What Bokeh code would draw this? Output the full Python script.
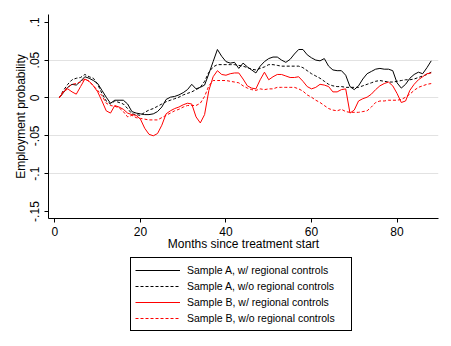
from bokeh.plotting import figure
from bokeh.layouts import column
from bokeh.models import Range1d, Legend, LegendItem, FixedTicker, ColumnDataSource
from bokeh.embed import file_html
from bokeh.resources import INLINE

months = list(range(1, 89))

sample_a_w = [
    0.000, 0.007, 0.014, 0.018, 0.017, 0.022, 0.028, 0.026, 0.023, 0.019,
    0.010, 0.001, -0.007, -0.003, -0.003, -0.003, -0.008, -0.018, -0.020, -0.021,
    -0.022, -0.022, -0.021, -0.018, -0.012, -0.002, 0.001, 0.002, 0.004, 0.007,
    0.011, 0.018, 0.012, 0.014, 0.017, 0.032, 0.048, 0.064, 0.055, 0.048,
    0.046, 0.047, 0.039, 0.046, 0.041, 0.037, 0.033, 0.042, 0.048, 0.052,
    0.054, 0.054, 0.050, 0.047, 0.051, 0.058, 0.064, 0.064, 0.057, 0.053,
    0.050, 0.049, 0.052, 0.042, 0.037, 0.036, 0.036, 0.030, 0.015, 0.011,
    0.016, 0.025, 0.032, 0.035, 0.038, 0.039, 0.038, 0.038, 0.036, 0.020,
    0.013, 0.018, 0.026, 0.031, 0.034, 0.032, 0.040, 0.049,
]

sample_a_wo = [
    0.000, 0.010, 0.018, 0.024, 0.026, 0.027, 0.031, 0.028, 0.026, 0.018,
    0.006, -0.004, -0.008, -0.004, -0.006, -0.008, -0.014, -0.021, -0.022, -0.023,
    -0.019, -0.016, -0.014, -0.011, -0.008, -0.005, -0.003, -0.001, 0.001, 0.004,
    0.006, 0.008, 0.011, 0.014, 0.022, 0.034, 0.041, 0.044, 0.044, 0.044,
    0.044, 0.044, 0.043, 0.042, 0.040, 0.038, 0.037, 0.039, 0.041, 0.044,
    0.044, 0.043, 0.042, 0.042, 0.042, 0.042, 0.042, 0.040, 0.036, 0.032,
    0.029, 0.026, 0.022, 0.018, 0.016, 0.015, 0.015, 0.014, 0.014, 0.014,
    0.014, 0.016, 0.018, 0.020, 0.022, 0.023, 0.022, 0.021, 0.021, 0.022,
    0.023, 0.024, 0.024, 0.025, 0.027, 0.029, 0.031, 0.034,
]

sample_b_w = [
    0.000, 0.008, 0.012, 0.008, 0.005, 0.015, 0.025, 0.022, 0.016, 0.008,
    -0.004, -0.017, -0.020, -0.010, -0.012, -0.015, -0.020, -0.022, -0.023, -0.028,
    -0.040, -0.048, -0.050, -0.047, -0.036, -0.021, -0.017, -0.014, -0.012, -0.009,
    -0.007, -0.008, -0.025, -0.033, -0.022, 0.010, 0.028, 0.036, 0.031, 0.030,
    0.032, 0.033, 0.033, 0.025, 0.016, 0.013, 0.012, 0.024, 0.034, 0.024,
    0.028, 0.031, 0.031, 0.029, 0.027, 0.027, 0.028, 0.022, 0.015, 0.012,
    0.014, 0.018, 0.017, 0.015, 0.008, 0.008, 0.011, 0.012, -0.020, -0.016,
    -0.004, -0.001, 0.001, 0.005, 0.011, 0.016, 0.019, 0.021, 0.016, 0.006,
    -0.006, -0.004, 0.010, 0.018, 0.024, 0.028, 0.032, 0.033,
]

sample_b_wo = [
    0.000, 0.009, 0.014, 0.018, 0.019, 0.021, 0.025, 0.022, 0.016, 0.010,
    0.003, -0.007, -0.010, -0.011, -0.013, -0.018, -0.025, -0.023, -0.026, -0.027,
    -0.028, -0.029, -0.029, -0.029, -0.026, -0.023, -0.020, -0.017, -0.015, -0.012,
    -0.010, -0.010, -0.010, -0.007, 0.002, 0.016, 0.023, 0.023, 0.023, 0.023,
    0.022, 0.021, 0.020, 0.016, 0.013, 0.011, 0.010, 0.012, 0.011, 0.012,
    0.012, 0.014, 0.014, 0.014, 0.014, 0.014, 0.012, 0.009, 0.004, 0.001,
    -0.003, -0.006, -0.010, -0.014, -0.016, -0.017, -0.015, -0.018, -0.019, -0.019,
    -0.019, -0.018, -0.017, -0.012, -0.006, -0.004, -0.004, -0.003, -0.003, -0.003,
    -0.002, 0.001, 0.005, 0.010, 0.014, 0.016, 0.018, 0.019,
]

series_labels = [
    "Sample A, w/ regional controls",
    "Sample A, w/o regional controls",
    "Sample B, w/ regional controls",
    "Sample B, w/o regional controls",
]

x_ticks = [0, 20, 40, 60, 80]
y_ticks = [-0.15, -0.1, -0.05, 0, 0.05, 0.1]
y_tick_labels = ["-.15", "-.1", "-.05", "0", ".05", ".1"]
y_grid = [-0.1, -0.05, 0, 0.05]

x_title = "Months since treatment start"
y_title = "Employment probability"

FONT = "Liberation Sans"

source = ColumnDataSource(dict(
    m=months, a_w=sample_a_w, a_wo=sample_a_wo, b_w=sample_b_w, b_wo=sample_b_wo,
))

styles = [
    dict(y="a_w", line_color="black", line_dash="solid"),
    dict(y="a_wo", line_color="black", line_dash="3 2"),
    dict(y="b_w", line_color="#ff0000", line_dash="solid"),
    dict(y="b_wo", line_color="#ff0000", line_dash="3 2"),
]

# ---------------- main chart ----------------
p = figure(
    width=451, height=254,
    x_range=Range1d(-1.5, 89.7), y_range=Range1d(-0.1592, 0.1102),
    output_backend="svg", toolbar_location=None,
    min_border_left=48, min_border_right=13, min_border_top=14, min_border_bottom=36,
    background_fill_color="white", border_fill_color="white",
)
p.outline_line_color = None
p.xgrid.visible = False
p.ygrid.ticker = FixedTicker(ticks=y_grid)
p.ygrid.grid_line_color = "#e2e2e2"
p.ygrid.grid_line_width = 1

p.xaxis.ticker = FixedTicker(ticks=x_ticks)
p.yaxis.ticker = FixedTicker(ticks=y_ticks)
p.yaxis.major_label_overrides = {t: l for t, l in zip(y_ticks, y_tick_labels)}
p.yaxis.major_label_orientation = "vertical"

for ax in (p.xaxis[0], p.yaxis[0]):
    ax.axis_line_color = "black"
    ax.axis_line_width = 1
    ax.major_tick_line_color = "black"
    ax.major_tick_in = 0
    ax.major_tick_out = 4
    ax.minor_tick_line_color = None
    ax.major_label_text_font = FONT
    ax.major_label_text_font_size = "12px"
    ax.major_label_text_color = "black"
    ax.axis_label_text_font = FONT
    ax.axis_label_text_font_size = "12px"
    ax.axis_label_text_font_style = "normal"
    ax.axis_label_text_color = "black"

p.xaxis.axis_label = x_title
p.yaxis.axis_label = y_title
p.xaxis.major_label_standoff = 4
p.xaxis.axis_label_standoff = -2
p.yaxis.major_label_standoff = 5
p.yaxis.axis_label_standoff = 0

for st in styles:
    p.line("m", st["y"], source=source, line_color=st["line_color"],
           line_dash=st["line_dash"], line_width=1)

# ---------------- legend strip ----------------
pl = figure(
    width=451, height=92,
    x_range=Range1d(1000, 1001), y_range=Range1d(1000, 1001),
    output_backend="svg", toolbar_location=None,
    x_axis_location=None, y_axis_location=None,
    min_border_left=0, min_border_right=0, min_border_top=0, min_border_bottom=0,
    background_fill_color="white", border_fill_color="white",
)
pl.outline_line_color = None
pl.xgrid.visible = False
pl.ygrid.visible = False

legend_renderers = []
for st in styles:
    r = pl.line("m", st["y"], source=source, line_color=st["line_color"],
                line_dash=st["line_dash"], line_width=1)
    legend_renderers.append(r)

legend = Legend(
    items=[LegendItem(label=lab, renderers=[r]) for lab, r in zip(series_labels, legend_renderers)],
    location=(82, 15), orientation="vertical",
    border_line_color="black", border_line_width=1, border_line_alpha=1,
    background_fill_color="white", background_fill_alpha=1,
    padding=4, spacing=0, margin=0,
    glyph_width=45, glyph_height=16, label_height=16, label_width=160, label_standoff=7,
    label_text_font=FONT, label_text_font_size="10.5px", label_text_color="black",
)
pl.add_layout(legend, "center")

layout = column(p, pl, spacing=0)

open("out.html", "w").write(file_html(layout, INLINE))
